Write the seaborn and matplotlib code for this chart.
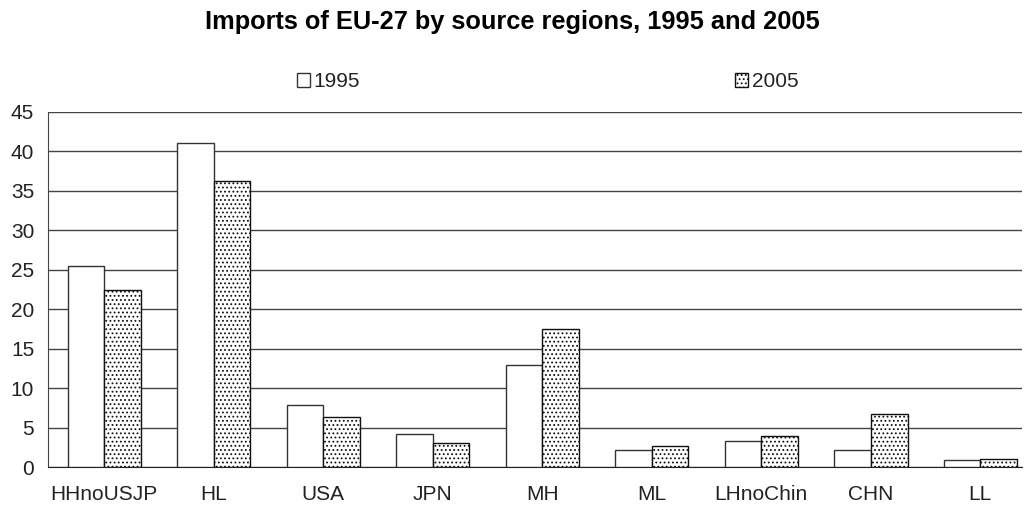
import pandas as pd
import matplotlib.pyplot as plt
import seaborn as sns
from matplotlib.patches import Patch

# Data
regions = ["HHnoUSJP", "HL", "USA", "JPN", "MH", "ML", "LHnoChin", "CHN", "LL"]
imports_1995 = [25.5, 41.1, 7.8, 4.2, 12.9, 2.2, 3.3, 2.1, 0.9]
imports_2005 = [22.4, 36.3, 6.4, 3.1, 17.5, 2.6, 3.9, 6.7, 1.0]
years = ["1995", "2005"]

df = pd.DataFrame({
    "Region": regions * 2,
    "Share": imports_1995 + imports_2005,
    "Year": [years[0]] * len(regions) + [years[1]] * len(regions),
})

sns.set_style("white")
plt.rcParams["font.family"] = ["Liberation Sans", "DejaVu Sans"]
plt.rcParams["hatch.linewidth"] = 0.8
plt.rcParams["hatch.color"] = "#222222"

fig = plt.figure(figsize=(10.24, 5.08), dpi=100)
ax = fig.add_axes([0.047, 0.0807, 0.951, 0.699])

sns.barplot(data=df, x="Region", y="Share", hue="Year", order=regions,
            palette=["white", "white"], edgecolor="#333333", linewidth=1.0,
            width=0.67, ax=ax, legend=False, zorder=3)

for bar in ax.containers[1]:
    bar.set_hatch("....")
    bar.set_edgecolor("#111111")

ax.set_ylim(0, 45)
ax.set_yticks(range(0, 46, 5))
ax.set_xlim(-0.512, 8.38)
ax.yaxis.grid(True, color="#444444", linewidth=1.0, zorder=0)
ax.set_axisbelow(True)
for side in ["top", "right"]:
    ax.spines[side].set_visible(False)
ax.spines["left"].set_color("#444444")
ax.spines["bottom"].set_color("#222222")
ax.tick_params(axis="y", length=4, color="#444444", labelsize=15, pad=6,
               labelcolor="#222222")
ax.tick_params(axis="x", length=0, labelsize=15, pad=13, labelcolor="#222222")
ax.set_xlabel("")
ax.set_ylabel("")

handles = [Patch(facecolor="white", edgecolor="#333333", label=years[0]),
           Patch(facecolor="white", edgecolor="#111111", hatch="....", label=years[1])]
fig.legend(handles=handles, ncol=2, loc="center", bbox_to_anchor=(0.535, 0.839),
           frameon=False, fontsize=15, handlelength=0.6, handleheight=0.6,
           handletextpad=0.2, columnspacing=18.0, labelcolor="#222222")

fig.suptitle("Imports of EU-27 by source regions, 1995 and 2005",
             fontsize=18.3, fontweight="bold", y=0.957, va="center", color="black")

plt.savefig("out.png", dpi=100)
plt.close()
